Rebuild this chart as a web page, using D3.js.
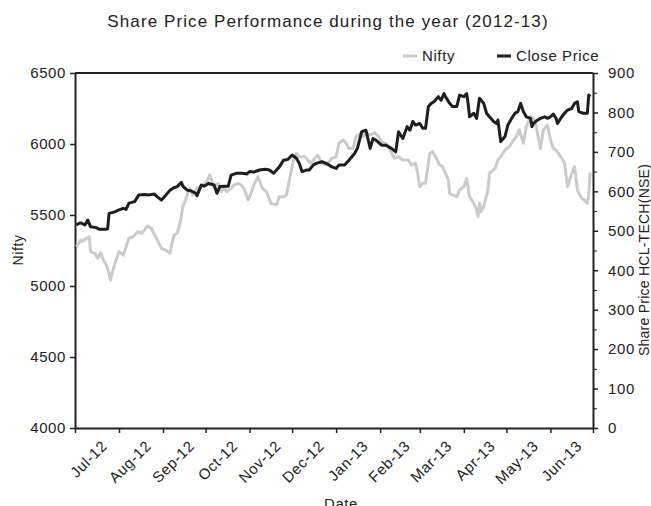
<!DOCTYPE html>
<html>
<head>
<meta charset="utf-8">
<title>Share Price Performance</title>
<script src="https://cdn.jsdelivr.net/npm/d3@7"></script>
<style>
	body { margin: 0; background: #fff; }
	text { font-family: "Liberation Sans", Arial, sans-serif; fill: #222; letter-spacing: 0.6px; }
	.domain, .tick line { stroke: #222; }
</style>
</head>
<body>
<svg id="chart" width="651" height="506"></svg>
<script>
	// month labels on the date axis
	var monthLabels = ["Jul-12", "Aug-12", "Sep-12", "Oct-12", "Nov-12", "Dec-12",
		"Jan-13", "Feb-13", "Mar-13", "Apr-13", "May-13", "Jun-13"];

	var niftyTicks = [4000, 4500, 5000, 5500, 6000, 6500];
	var priceTicks = [0, 100, 200, 300, 400, 500, 600, 700, 800, 900];

	// Nifty index (left axis)
	var nifty = [
		["2012-07-02",5277],["2012-07-05",5324],["2012-07-06",5312],["2012-07-09",5336],["2012-07-11",5347],
		["2012-07-12",5242],["2012-07-15",5230],["2012-07-17",5195],["2012-07-19",5234],["2012-07-21",5183],
		["2012-07-23",5148],["2012-07-25",5089],["2012-07-26",5042],["2012-07-28",5124],["2012-07-30",5183],
		["2012-08-01",5242],["2012-08-04",5218],["2012-08-06",5277],["2012-08-08",5336],["2012-08-11",5347],
		["2012-08-14",5382],["2012-08-17",5371],["2012-08-19",5394],["2012-08-21",5422],["2012-08-24",5406],
		["2012-08-26",5359],["2012-08-28",5324],["2012-08-31",5265],["2012-09-03",5253],["2012-09-06",5230],
		["2012-09-07",5289],["2012-09-09",5359],["2012-09-11",5371],["2012-09-13",5441],["2012-09-15",5559],
		["2012-09-17",5606],["2012-09-19",5676],["2012-09-20",5688],["2012-09-22",5641],["2012-09-25",5688],
		["2012-09-27",5699],["2012-09-29",5711],["2012-10-02",5735],["2012-10-04",5782],["2012-10-06",5723],
		["2012-10-07",5699],["2012-10-10",5723],["2012-10-12",5664],["2012-10-14",5688],["2012-10-16",5664],
		["2012-10-19",5688],["2012-10-21",5711],["2012-10-24",5723],["2012-10-26",5711],["2012-10-28",5688],
		["2012-10-31",5606],["2012-11-02",5652],["2012-11-04",5711],["2012-11-07",5770],["2012-11-10",5688],
		["2012-11-13",5664],["2012-11-16",5582],["2012-11-20",5571],["2012-11-22",5629],["2012-11-25",5629],
		["2012-11-27",5641],["2012-11-30",5793],["2012-12-02",5887],["2012-12-04",5934],["2012-12-06",5910],
		["2012-12-10",5910],["2012-12-12",5887],["2012-12-14",5864],["2012-12-17",5899],["2012-12-19",5922],
		["2012-12-22",5864],["2012-12-25",5852],["2012-12-29",5899],["2013-01-01",5910],["2013-01-03",6005],
		["2013-01-06",6028],["2013-01-08",6005],["2013-01-10",5969],["2013-01-13",5969],["2013-01-15",6052],
		["2013-01-18",6075],["2013-01-20",6052],["2013-01-22",6075],["2013-01-25",6063],["2013-01-28",6080],
		["2013-01-31",6052],["2013-02-02",6016],["2013-02-05",6005],["2013-02-08",5958],["2013-02-11",5899],
		["2013-02-14",5910],["2013-02-17",5887],["2013-02-19",5887],["2013-02-21",5887],["2013-02-23",5852],
		["2013-02-26",5864],["2013-02-27",5817],["2013-03-01",5699],["2013-03-03",5723],["2013-03-05",5723],
		["2013-03-08",5934],["2013-03-10",5946],["2013-03-12",5910],["2013-03-15",5852],["2013-03-17",5840],
		["2013-03-21",5747],["2013-03-22",5652],["2013-03-24",5641],["2013-03-27",5629],["2013-03-29",5676],
		["2013-04-01",5699],["2013-04-03",5758],["2013-04-05",5629],["2013-04-08",5582],["2013-04-10",5535],
		["2013-04-11",5488],["2013-04-12",5582],["2013-04-13",5523],["2013-04-15",5559],["2013-04-18",5676],
		["2013-04-19",5793],["2013-04-23",5828],["2013-04-25",5887],["2013-04-27",5910],["2013-04-30",5958],
		["2013-05-03",5981],["2013-05-06",6028],["2013-05-08",6052],["2013-05-10",6099],["2013-05-13",6005],
		["2013-05-15",6122],["2013-05-18",6193],["2013-05-20",6181],["2013-05-22",6122],["2013-05-25",5969],
		["2013-05-27",6099],["2013-05-30",6134],["2013-06-01",6028],["2013-06-03",5969],["2013-06-05",5958],
		["2013-06-09",5899],["2013-06-11",5864],["2013-06-13",5699],["2013-06-16",5793],["2013-06-18",5840],
		["2013-06-20",5676],["2013-06-23",5617],["2013-06-25",5606],["2013-06-27",5582],["2013-06-28",5652],
		["2013-06-29",5800]
	];

	// HCL-TECH close price (right axis)
	var closePrice = [
		["2012-07-02",515],["2012-07-04",519],["2012-07-05",520],["2012-07-08",515],["2012-07-10",527],
		["2012-07-12",510],["2012-07-16",508],["2012-07-18",504],["2012-07-23",504],["2012-07-24",505],
		["2012-07-25",544],["2012-07-29",548],["2012-08-01",553],["2012-08-04",557],["2012-08-06",554],
		["2012-08-08",570],["2012-08-12",574],["2012-08-15",591],["2012-08-19",592],["2012-08-22",591],
		["2012-08-26",593],["2012-08-28",586],["2012-08-31",578],["2012-09-02",586],["2012-09-06",603],
		["2012-09-08",608],["2012-09-11",612],["2012-09-14",623],["2012-09-15",613],["2012-09-18",603],
		["2012-09-21",601],["2012-09-24",595],["2012-09-25",589],["2012-09-28",616],["2012-09-30",613],
		["2012-10-03",620],["2012-10-07",616],["2012-10-09",595],["2012-10-11",612],["2012-10-15",613],
		["2012-10-17",613],["2012-10-19",641],["2012-10-23",646],["2012-10-27",646],["2012-10-30",644],
		["2012-11-01",650],["2012-11-04",649],["2012-11-08",654],["2012-11-12",656],["2012-11-15",654],
		["2012-11-18",646],["2012-11-20",654],["2012-11-22",662],["2012-11-25",679],["2012-11-28",681],
		["2012-12-01",692],["2012-12-04",684],["2012-12-06",671],["2012-12-08",650],["2012-12-11",654],
		["2012-12-13",654],["2012-12-16",667],["2012-12-18",671],["2012-12-22",675],["2012-12-25",671],
		["2012-12-29",662],["2013-01-01",658],["2013-01-03",667],["2013-01-07",667],["2013-01-10",679],
		["2013-01-14",696],["2013-01-16",709],["2013-01-19",751],["2013-01-22",755],["2013-01-25",709],
		["2013-01-27",734],["2013-01-29",730],["2013-02-02",717],["2013-02-05",717],["2013-02-09",709],
		["2013-02-12",700],["2013-02-14",751],["2013-02-17",734],["2013-02-20",764],["2013-02-22",755],
		["2013-02-24",777],["2013-02-26",768],["2013-03-01",772],["2013-03-03",760],["2013-03-05",760],
		["2013-03-07",815],["2013-03-09",823],["2013-03-11",827],["2013-03-14",840],["2013-03-16",831],
		["2013-03-18",848],["2013-03-19",840],["2013-03-22",823],["2013-03-24",815],["2013-03-27",815],
		["2013-03-29",844],["2013-04-01",840],["2013-04-03",848],["2013-04-04",823],["2013-04-05",789],
		["2013-04-08",798],["2013-04-10",785],["2013-04-12",836],["2013-04-15",823],["2013-04-17",798],
		["2013-04-19",789],["2013-04-22",777],["2013-04-24",772],["2013-04-25",781],["2013-04-27",726],
		["2013-04-30",739],["2013-05-02",768],["2013-05-04",781],["2013-05-07",798],["2013-05-09",802],
		["2013-05-11",823],["2013-05-13",802],["2013-05-15",789],["2013-05-18",785],["2013-05-19",764],
		["2013-05-20",772],["2013-05-23",781],["2013-05-25",785],["2013-05-28",789],["2013-05-30",785],
		["2013-06-01",789],["2013-06-03",796],["2013-06-05",785],["2013-06-06",772],["2013-06-09",789],
		["2013-06-11",798],["2013-06-13",806],["2013-06-16",810],["2013-06-18",823],["2013-06-20",827],
		["2013-06-21",802],["2013-06-24",798],["2013-06-27",798],["2013-06-28",844],["2013-06-29",840]
	];

	var parse = d3.timeParse("%Y-%m-%d");
	var plotLeft = 75, plotRight = 593, plotTop = 73, plotBottom = 428;

	var svg = d3.select("#chart");

	var x = d3.scaleTime()
		.domain([new Date(2012, 6, 1), new Date(2013, 6, 1)])
		.range([plotLeft, plotRight]);
	var yNifty = d3.scaleLinear().domain([4000, 6500]).range([plotBottom, plotTop]);
	var yPrice = d3.scaleLinear().domain([0, 900]).range([plotBottom, plotTop]);

	// top border of the plot
	svg.append("line")
		.attr("x1", plotLeft).attr("x2", plotRight)
		.attr("y1", plotTop).attr("y2", plotTop)
		.attr("stroke", "#222").attr("stroke-width", 2);

	// date axis: ticks on month starts, labels in the middle of each month
	var monthStarts = d3.timeMonth.range(new Date(2012, 6, 1), new Date(2013, 6, 2));
	var xAxis = svg.append("g")
		.attr("transform", "translate(0," + plotBottom + ")")
		.call(d3.axisBottom(x).tickValues(monthStarts).tickSize(5).tickSizeOuter(0).tickFormat(""));
	xAxis.select(".domain").attr("stroke-width", 2);
	xAxis.selectAll(".tick line").attr("stroke-width", 1.5);

	svg.append("g").selectAll("text")
		.data(monthLabels)
		.join("text")
		.attr("transform", function(d, i) {
			var mid = (x(monthStarts[i]) + x(monthStarts[i + 1])) / 2;
			return "translate(" + (mid + 11) + "," + 447 + ") rotate(-45)";
		})
		.attr("text-anchor", "end")
		.style("font-size", "15px")
		.text(function(d) { return d; });

	var yl = svg.append("g")
		.attr("transform", "translate(" + plotLeft + ",0)")
		.call(d3.axisLeft(yNifty).tickValues(niftyTicks).tickSize(5).tickSizeOuter(0).tickPadding(4).tickFormat(d3.format("d")));
	yl.select(".domain").attr("stroke-width", 2);
	yl.selectAll(".tick line").attr("stroke-width", 1.5);
	yl.selectAll(".tick text").style("font-size", "15px").style("font-family", "Liberation Sans, Arial, sans-serif").attr("fill", "#222");

	// minor ticks every 50 on the price axis
	var minor = d3.range(50, 900, 100);
	svg.append("g")
		.attr("transform", "translate(" + plotRight + ",0)")
		.call(d3.axisRight(yPrice).tickValues(minor).tickSize(4).tickFormat(""))
		.call(function(g) { g.select(".domain").remove(); });

	var yr = svg.append("g")
		.attr("transform", "translate(" + plotRight + ",0)")
		.call(d3.axisRight(yPrice).tickValues(priceTicks).tickSize(5).tickSizeOuter(0).tickPadding(10));
	yr.select(".domain").attr("stroke-width", 2);
	yr.selectAll(".tick line").attr("stroke-width", 1.5);
	yr.selectAll(".tick text").style("font-size", "15px").style("font-family", "Liberation Sans, Arial, sans-serif").attr("fill", "#222");

	// lines
	var niftyLine = d3.line()
		.x(function(d) { return x(parse(d[0])); })
		.y(function(d) { return yNifty(d[1]); });
	var priceLine = d3.line()
		.x(function(d) { return x(parse(d[0])); })
		.y(function(d) { return yPrice(d[1]); });

	svg.append("path")
		.datum(nifty)
		.attr("d", niftyLine)
		.attr("fill", "none")
		.attr("stroke", "#cbcbcb")
		.attr("stroke-width", 3)
		.attr("stroke-linejoin", "round");

	svg.append("path")
		.datum(closePrice)
		.attr("d", priceLine)
		.attr("fill", "none")
		.attr("stroke", "#1e1e1e")
		.attr("stroke-width", 3)
		.attr("stroke-linejoin", "round");

	// title and axis titles
	svg.append("text")
		.attr("x", 328).attr("y", 27)
		.attr("text-anchor", "middle")
		.style("font-size", "17px")
		.style("letter-spacing", "1.1px")
		.text("Share Price Performance during the year (2012-13)");

	svg.append("text")
		.attr("transform", "translate(23,250) rotate(-90)")
		.attr("text-anchor", "middle")
		.style("font-size", "14px")
		.text("Nifty");

	svg.append("text")
		.attr("transform", "translate(649,260) rotate(-90)")
		.attr("text-anchor", "middle")
		.style("font-size", "14px")
		.style("letter-spacing", "0.25px")
		.text("Share Price HCL-TECH(NSE)");

	svg.append("text")
		.attr("x", 341).attr("y", 509)
		.attr("text-anchor", "middle")
		.style("font-size", "15px")
		.text("Date");

	// legend
	var legend = [["Nifty", "#cbcbcb", 403], ["Close Price", "#1e1e1e", 497]];
	legend.forEach(function(l) {
		svg.append("line")
			.attr("x1", l[2]).attr("x2", l[2] + 14)
			.attr("y1", 56).attr("y2", 56)
			.attr("stroke", l[1]).attr("stroke-width", 3);
		svg.append("text")
			.attr("x", l[2] + 19).attr("y", 61)
			.style("font-size", "15px")
			.text(l[0]);
	});
</script>
</body>
</html>
